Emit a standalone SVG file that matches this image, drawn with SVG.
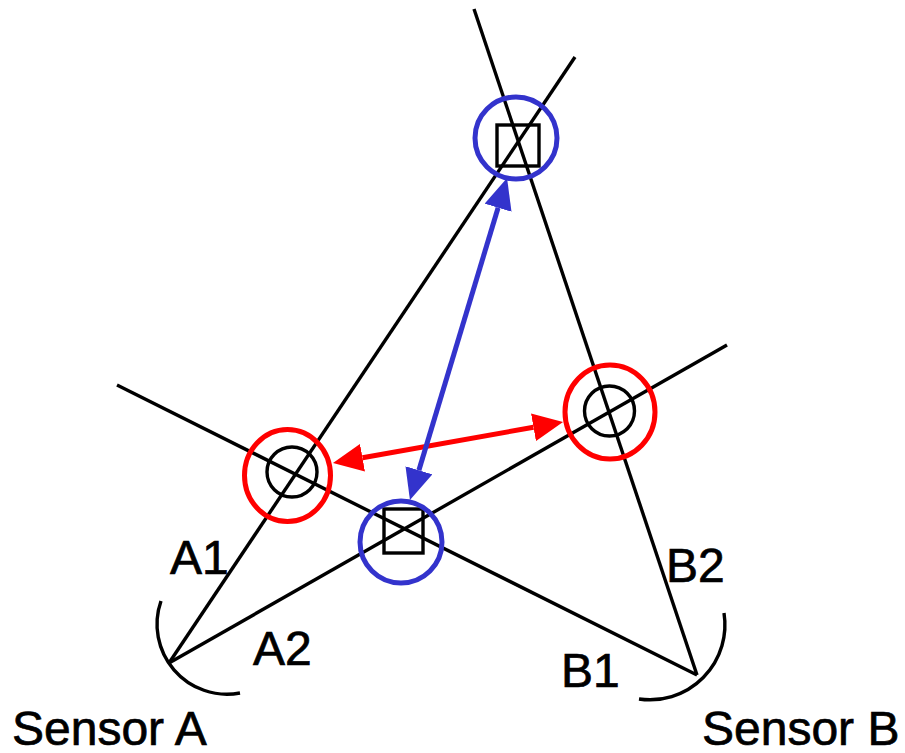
<svg xmlns="http://www.w3.org/2000/svg" width="905" height="753" viewBox="0 0 905 753">
  <style>
    .ray { stroke: #000; stroke-width: 3.4; fill: none; }
    .arc { stroke: #000; stroke-width: 3.4; fill: none; }
    .mark { stroke: #000; stroke-width: 3.4; fill: none; }
    .red { stroke: #ff0000; stroke-width: 5; fill: none; }
    .blue { stroke: #3333cc; stroke-width: 5; fill: none; }
    .lbl { font-family: "Liberation Sans", Arial, sans-serif; font-size: 48px; fill: #000; stroke: #000; stroke-width: 0.7; }
  </style>
  <defs>
    <marker id="arrRed" viewBox="0 0 30 28" refX="0" refY="14" markerWidth="30" markerHeight="28" markerUnits="userSpaceOnUse" orient="auto-start-reverse">
      <path d="M0,0 L30,14 L0,28 z" fill="#ff0000"/>
    </marker>
    <marker id="arrBlue" viewBox="0 0 31 28" refX="0" refY="14" markerWidth="31" markerHeight="28" markerUnits="userSpaceOnUse" orient="auto-start-reverse">
      <path d="M0,0 L31,14 L0,28 z" fill="#3333cc"/>
    </marker>
  </defs>
  <rect width="905" height="753" fill="#fff"/>

  <g id="connectors">
    <line id="rayA1" class="ray" x1="169" y1="663" x2="575" y2="57"/>
    <line id="rayA2" class="ray" x1="169" y1="663" x2="727" y2="345"/>
    <line id="rayB1" class="ray" x1="697" y1="675" x2="117" y2="385"/>
    <line id="rayB2" class="ray" x1="697" y1="675" x2="474" y2="9"/>
    <line id="redArrow" class="red" x1="362.5" y1="457.7" x2="533.5" y2="427.3" marker-start="url(#arrRed)" marker-end="url(#arrRed)"/>
    <line id="blueArrow" class="blue" x1="498.1" y1="207.7" x2="418.9" y2="470.3" marker-start="url(#arrBlue)" marker-end="url(#arrBlue)"/>
  </g>

  <g id="sensorA">
    <path class="arc" d="M161,601 A70,70 0 0,0 240,693"/>
    <text class="lbl" x="12" y="745">Sensor A</text>
  </g>
  <g id="sensorB">
    <path class="arc" d="M724,613 A75,75 0 0,1 639,699"/>
    <text class="lbl" x="702" y="745">Sensor B</text>
  </g>

  <g id="labels">
    <text class="lbl" x="170" y="574">A1</text>
    <text class="lbl" x="253" y="665">A2</text>
    <text class="lbl" x="561" y="687">B1</text>
    <text class="lbl" x="666" y="582">B2</text>
  </g>

  <g id="topSquare">
    <rect class="mark" x="497" y="125" width="42" height="41"/>
    <circle class="blue" cx="516" cy="138" r="41"/>
  </g>
  <g id="bottomSquare">
    <rect class="mark" x="384" y="509" width="39" height="44"/>
    <circle class="blue" cx="401" cy="542" r="41"/>
  </g>
  <g id="leftCircle">
    <circle class="mark" cx="292" cy="472" r="25"/>
    <ellipse class="red" cx="287.5" cy="475.5" rx="43" ry="46"/>
  </g>
  <g id="rightCircle">
    <circle class="mark" cx="609.5" cy="411" r="25"/>
    <ellipse class="red" cx="610" cy="412" rx="45" ry="47"/>
  </g>
</svg>
